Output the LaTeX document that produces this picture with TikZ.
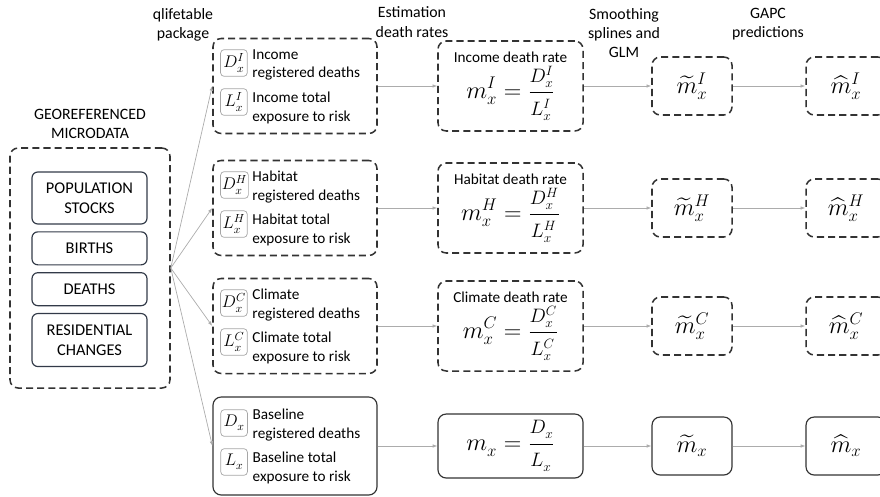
\documentclass[tikz,border=0pt]{standalone}
\usepackage{fontspec}
\setmainfont{Carlito}
\usepackage{amsmath}
\usetikzlibrary{positioning,arrows.meta}
\definecolor{slate}{RGB}{50,58,72}
\tikzset{
  % Specifications for style of nodes:
  base/.style = {
    rectangle,
    rounded corners=7pt,
    draw=black!80,
    line width=1.3pt,
    text centered
  },
  dbox/.style = {
    base,
    dash pattern=on 6pt off 3.5pt
  },
  sbox/.style = {
    base,
    line width=1pt
  },
  group/.style = {
    minimum width=4.92cm,
    minimum height=2.85cm
  },
  rate/.style = {
    minimum width=4.35cm,
    minimum height=2.7cm,
    align=center,
    font=\fontsize{13}{15}\selectfont
  },
  est/.style = {
    minimum width=2.4cm,
    minimum height=1.74cm,
    font=\fontsize{21}{24}\selectfont
  },
  databox/.style = {
    rectangle,
    rounded corners=5pt,
    draw=slate,
    line width=1pt,
    minimum width=3.45cm,
    align=center,
    font=\fontsize{14}{17}\selectfont
  },
  mathbox/.style = {
    rectangle,
    rounded corners=3pt,
    draw=gray!70,
    line width=0.6pt,
    minimum width=0.8cm,
    minimum height=0.8cm,
    inner sep=1pt,
    font=\fontsize{14}{15}\selectfont
  },
  info/.style = {
    align=left,
    inner sep=0pt,
    font=\fontsize{13}{15.5}\selectfont
  },
  header/.style = {
    align=center,
    inner sep=0pt,
    font=\fontsize{13.5}{16.5}\selectfont
  },
  flow/.style = {
    draw=gray!65,
    line width=0.6pt,
    -{Latex[length=4pt,width=3pt]}
  },
}
\def\inputs#1#2#3{
  \begin{scope}
    \node[mathbox, right=0.24cm of #1.west, yshift=0.69cm]  (#1D) {$D_x^{#2}$};
    \node[mathbox, right=0.24cm of #1.west, yshift=-0.48cm] (#1L) {$L_x^{#2}$};
    \node[info, right=1.2cm of #1.west, yshift=0.63cm]  (#1Dtext) {#3\\registered deaths};
    \node[info, right=1.2cm of #1.west, yshift=-0.66cm] (#1Ltext) {#3 total\\exposure to risk};
  \end{scope}
}
\def\formula#1{{\fontsize{21}{24}\selectfont
  $\displaystyle m_x^{#1} = \frac{\scalebox{0.8}{$D_x^{#1}$}}{\scalebox{0.8}{$L_x^{#1}$}}$}}

\begin{document}
\begin{tikzpicture}[x=0.03cm, y=-0.03cm]
    \useasboundingbox (0,0) rectangle (880,496);
    % Column headers
    \node[header] (headq) at (183,25) {qlifetable\\package};
    \node[header] (heade) at (412,22) {Estimation\\death rates};
    \node[header] (heads) at (624,33) {Smoothing\\splines and\\GLM};
    \node[header] (headg) at (768,24) {GAPC\\predictions};
    % Microdata
    \node[dbox, minimum width=4.8cm, minimum height=7.2cm] (geo) at (90,268) {};
    \node[header, above=0.24cm of geo]                  (geolabel) {GEOREFERENCED\\MICRODATA};
    \node[databox, minimum height=1.56cm] (stocks) at (89.5,198) {POPULATION\\STOCKS};
    \node[databox, minimum height=0.99cm, below=0.2cm of stocks] (births)  {BIRTHS};
    \node[databox, minimum height=0.99cm, below=0.2cm of births] (deaths)  {DEATHS};
    \node[databox, minimum height=1.59cm, below=0.2cm of deaths] (changes) {RESIDENTIAL\\CHANGES};
    % Inputs per group
    \node[dbox, group] (income)   at (295,86)  {};
    \node[dbox, group] (habitat)  at (295,208) {};
    \node[dbox, group] (climate)  at (295,326) {};
    \node[sbox, group, minimum height=2.94cm] (baseline) at (295,446) {};
    \inputs{income}{I}{Income}
    \inputs{habitat}{H}{Habitat}
    \inputs{climate}{C}{Climate}
    \inputs{baseline}{}{Baseline}
    % Death rates
    \node[dbox, rate] (rateincome)  at (510.5,86)  {Income death rate\\[2pt]\formula{I}};
    \node[dbox, rate] (ratehabitat) at (510.5,208) {Habitat death rate\\[2pt]\formula{H}};
    \node[dbox, rate] (rateclimate) at (510.5,326) {Climate death rate\\[2pt]\formula{C}};
    \node[sbox, rate, minimum height=1.92cm] (ratebaseline) at (510.5,446) {\formula{}};
    % Smoothed and predicted rates
    \node[dbox, est] (smoothincome)   at (692,86)  {$\widetilde{m}_x^I$};
    \node[dbox, est] (smoothhabitat)  at (692,208) {$\widetilde{m}_x^H$};
    \node[dbox, est] (smoothclimate)  at (692,326) {$\widetilde{m}_x^C$};
    \node[sbox, est] (smoothbaseline) at (692,446) {$\widetilde{m}_x$};
    \node[dbox, est] (predincome)     at (846,86)  {$\widehat{m}_x^I$};
    \node[dbox, est] (predhabitat)    at (846,208) {$\widehat{m}_x^H$};
    \node[dbox, est] (predclimate)    at (846,326) {$\widehat{m}_x^C$};
    \node[sbox, est] (predbaseline)   at (846,446) {$\widehat{m}_x$};
    % Connectors
    \foreach \row in {income,habitat,climate,baseline} {
      \draw[flow] (geo.east) -- (\row.west);
      \draw[flow] (\row.east) -- (rate\row.west);
      \draw[flow] (rate\row.east) -- (smooth\row.west);
      \draw[flow] (smooth\row.east) -- (pred\row.west);
    }
  \end{tikzpicture}
\end{document}
